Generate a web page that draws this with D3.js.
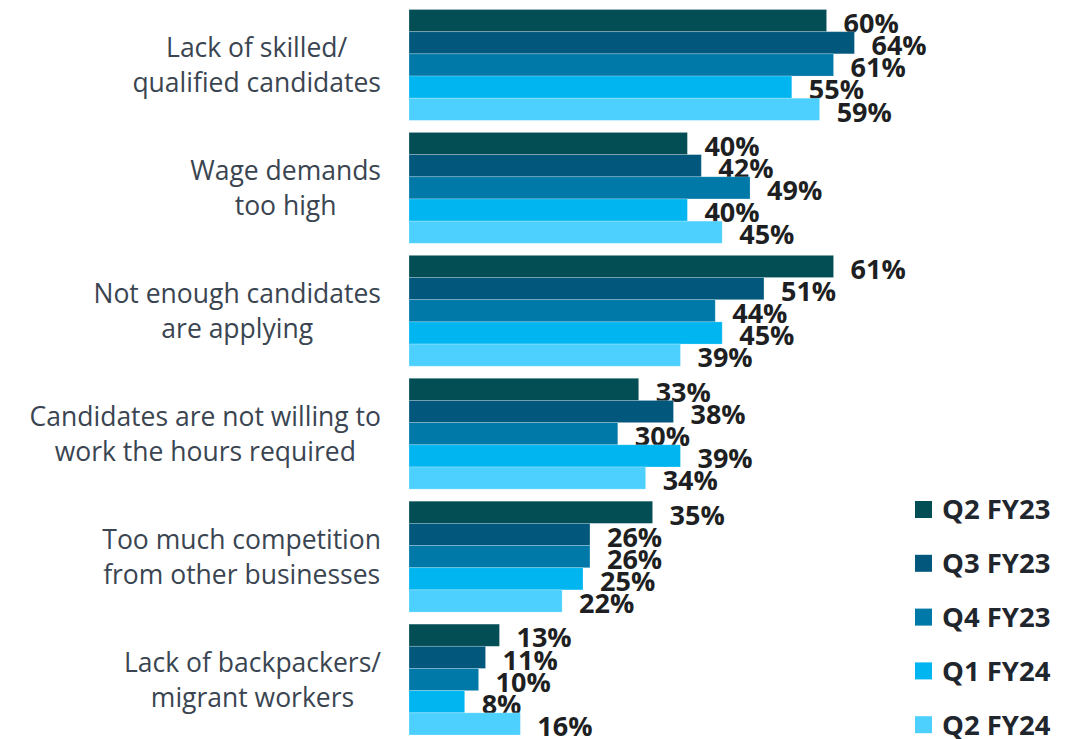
<!DOCTYPE html>
<html>
<head>
<meta charset="utf-8">
<script src="https://cdn.jsdelivr.net/npm/d3@7"></script>
<style>
  html, body { margin: 0; padding: 0; background: #ffffff; }
  svg { display: block; }
</style>
</head>
<body>
<svg id="chart" width="1069" height="739"></svg>
<script>
// Reasons for recruitment difficulty, share of respondents by quarter
const categories = [
  ["Lack of skilled/", "qualified candidates"],
  ["Wage demands", "too high"],
  ["Not enough candidates", "are applying"],
  ["Candidates are not willing to", "work the hours required"],
  ["Too much competition", "from other businesses"],
  ["Lack of backpackers/", "migrant workers"]
];
const seriesNames = ["Q2 FY23", "Q3 FY23", "Q4 FY23", "Q1 FY24", "Q2 FY24"];
const seriesColors = ["#034e55", "#02587c", "#0079a8", "#00b5f0", "#4dd0fe"];

const q2fy23 = [60, 40, 61, 33, 35, 13];
const q3fy23 = [64, 42, 51, 38, 26, 11];
const q4fy23 = [61, 49, 44, 30, 26, 10];
const q1fy24 = [55, 40, 45, 39, 25, 8];
const q2fy24 = [59, 45, 39, 34, 22, 16];
const seriesValues = [q2fy23, q3fy23, q4fy23, q1fy24, q2fy24];

const svg = d3.select("#chart");
const FONT = "'Open Sans', 'Noto Sans', sans-serif";

const x = d3.scaleLinear().domain([0, 100]).range([409, 1105]);
const y = d3.scaleBand()
  .domain(d3.range(categories.length))
  .range([9.5, 735])
  .paddingInner(0.098)
  .paddingOuter(0);
const ySub = d3.scaleBand()
  .domain(d3.range(seriesNames.length))
  .range([0, y.bandwidth()]);

const groups = svg.append("g").selectAll("g")
  .data(categories)
  .join("g")
  .attr("transform", (d, i) => `translate(0,${y(i)})`);

const rows = groups.selectAll("g.row")
  .data((d, ci) => seriesValues.map((vals, si) => ({ si, v: vals[ci] })))
  .join("g").attr("class", "row");

rows.append("rect")
  .attr("x", x(0))
  .attr("y", d => ySub(d.si))
  .attr("width", d => x(d.v) - x(0))
  .attr("height", ySub.bandwidth())
  .attr("fill", d => seriesColors[d.si])
  .attr("stroke", "rgba(255,255,255,0.28)")
  .attr("stroke-width", 0.8);

rows.append("text")
  .attr("x", d => x(d.v) + 17)
  .attr("y", d => ySub(d.si) + ySub.bandwidth() / 2 + 2.5)
  .attr("dy", "0.36em")
  .attr("font-family", FONT)
  .attr("font-weight", 700)
  .attr("font-size", 27)
  .attr("fill", "#1e1f22")
  .text(d => d.v + "%");

// Category labels: lines centred on each other, block right-aligned
const labelRight = 381;
groups.each(function (lines) {
  const g = d3.select(this);
  const cy = y.bandwidth() / 2;
  const t = g.selectAll("text.cat")
    .data(lines)
    .join("text")
    .attr("class", "cat")
    .attr("font-family", FONT)
    .attr("font-size", 26.5)
    .attr("fill", "#3a4551")
    .attr("text-anchor", "middle")
    .attr("y", (d, i) => cy + (i - (lines.length - 1) / 2) * 35)
    .attr("dy", "0.36em")
    .text(d => d);
  const widths = t.nodes().map(n => n.getComputedTextLength());
  const maxW = d3.max(widths);
  t.attr("x", labelRight - maxW / 2);
});

// Legend
const legend = svg.append("g").selectAll("g")
  .data(seriesNames)
  .join("g")
  .attr("transform", (d, i) => `translate(915,${509.5 + i * 53.8})`);

legend.append("rect")
  .attr("x", 0).attr("y", -8.5)
  .attr("width", 17).attr("height", 17)
  .attr("fill", (d, i) => seriesColors[i]);

legend.append("text")
  .attr("x", 27)
  .attr("y", 0)
  .attr("dy", "0.36em")
  .attr("font-family", FONT)
  .attr("font-weight", 700)
  .attr("font-size", 27.5)
  .attr("fill", "#1f262d")
  .text(d => d);
</script>
</body>
</html>
